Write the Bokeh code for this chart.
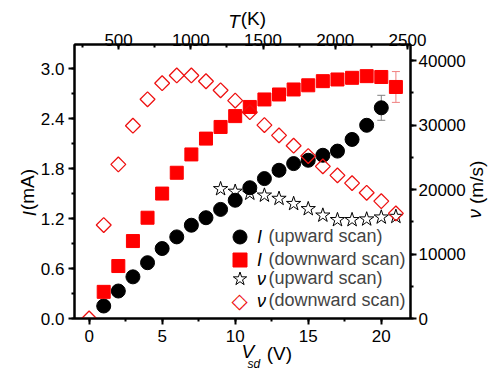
import math
from bokeh.plotting import figure
from bokeh.models import (Range1d, LinearAxis, SingleIntervalTicker, FixedTicker, Label, Legend,
                          LegendItem, Whisker, ColumnDataSource, TeeHead, PrintfTickFormatter)
from bokeh.embed import file_html
from bokeh.resources import INLINE

# ---- data ----
V_I_up = list(range(1, 21))
I_up = [0.15, 0.33, 0.50, 0.67, 0.84, 0.98, 1.12, 1.21, 1.31, 1.42,
        1.57, 1.68, 1.78, 1.86, 1.90, 1.96, 2.01, 2.15, 2.32, 2.53]

V_I_down = list(range(1, 22))
I_down = [0.32, 0.63, 0.93, 1.21, 1.50, 1.75, 1.97, 2.16, 2.30, 2.43,
          2.54, 2.63, 2.69, 2.75, 2.80, 2.85, 2.87, 2.89, 2.91, 2.90, 2.78]

V_v_up = list(range(9, 22))
v_up = [20100, 19700, 19400, 19100, 18600, 17800, 17000, 16000, 15300,
        15300, 15400, 15700, 15800]

V_v_down = list(range(0, 22))
v_down = [0, 14500, 23900, 29900, 34000, 36500, 37700, 37700, 36800, 35400,
          33800, 32000, 30000, 28400, 26800, 25200, 23600, 22200, 21000,
          19500, 18200, 16300]

# error bars (visible ones)
err_up_V = [20]
err_up_I = [2.53]
err_up_half = [0.15]
err_down_V = [21]
err_down_I = [2.78]
err_down_half = [0.185]

legend_labels = ["(upward scan)", "(downward scan)", "(upward scan)", "(downward scan)"]
legend_symbols = ["I", "I", "ν", "ν"]

FONT = "Liberation Sans"

# ---- layout (pixels) ----
W, H = 500, 382
FL, FR, FT, FB = 74, 416, 44, 318          # frame edges
X0, X1 = -1, 22
Y0, Y1 = 0, 3.29
VMAX = 42500

p = figure(width=W, height=H, x_range=Range1d(X0, X1), y_range=Range1d(Y0, Y1),
           output_backend="svg", toolbar_location=None,
           min_border_left=FL, min_border_right=W - FR, min_border_top=FT, min_border_bottom=H - FB)
p.xgrid.visible = False
p.ygrid.visible = False
p.outline_line_color = "black"
p.outline_line_width = 2
p.background_fill_color = "white"
p.border_fill_color = "white"

baxis = p.below[0]
laxis = p.left[0]

p.extra_y_ranges = {"v": Range1d(0, VMAX)}
p.extra_x_ranges = {"T": Range1d(195, 2521)}

baxis.ticker = SingleIntervalTicker(interval=5, num_minor_ticks=2)
laxis.ticker = SingleIntervalTicker(interval=0.6, num_minor_ticks=2)
laxis.formatter = PrintfTickFormatter(format="%.1f")
raxis = LinearAxis(y_range_name="v", ticker=SingleIntervalTicker(interval=10000, num_minor_ticks=2))
taxis = LinearAxis(x_range_name="T", ticker=SingleIntervalTicker(interval=500, num_minor_ticks=2))
p.add_layout(raxis, "right")
p.add_layout(taxis, "above")

for ax in [baxis, laxis, raxis, taxis]:
    ax.axis_line_width = 2
    ax.axis_line_color = "black"
    ax.major_tick_line_width = 2
    ax.minor_tick_line_width = 2
    ax.major_tick_line_color = "black"
    ax.minor_tick_line_color = "black"
    ax.major_label_text_font = FONT
    ax.major_label_text_font_size = "17px"
    ax.major_label_text_color = "black"
    ax.major_tick_out = 6
    ax.major_tick_in = 0
    ax.minor_tick_out = 3
    ax.minor_tick_in = 0
    ax.axis_label = None
taxis.major_tick_out = 0
taxis.major_tick_in = 5
taxis.minor_tick_out = 0
taxis.minor_tick_in = 3
taxis.major_label_standoff = -1
baxis.major_label_standoff = 5
laxis.major_label_standoff = 4
raxis.major_label_standoff = 2


# ---- axis titles: label-only axes, so that parts can be styled separately ----
def x_at(px):
    return round(X0 + (px - FL) / (FR - FL) * (X1 - X0), 4)


def y_at(py):
    return round(Y0 + (FB - py) / (FB - FT) * (Y1 - Y0), 4)


def v_at(py):
    return round((FB - py) / (FB - FT) * VMAX, 2)


def title_part(side, pos, text, size, style, standoff, range_name=None):
    kw = {}
    if range_name is not None:
        kw["y_range_name"] = range_name
    ax = LinearAxis(ticker=FixedTicker(ticks=[pos], minor_ticks=[]), **kw)
    ax.major_label_overrides = {pos: text}
    ax.major_label_text_font = FONT
    ax.major_label_text_font_size = size
    ax.major_label_text_font_style = style
    ax.major_label_text_color = "black"
    ax.major_label_standoff = standoff
    if side in ("left", "right"):
        ax.major_label_orientation = math.pi / 2
    ax.axis_line_color = None
    ax.major_tick_line_color = None
    ax.minor_tick_line_color = None
    ax.major_tick_out = 0
    ax.major_tick_in = 0
    ax.minor_tick_out = 0
    ax.minor_tick_in = 0
    p.add_layout(ax, side)


title_part("below", x_at(250.5), "V", "19px", "italic", -4)
title_part("below", x_at(282.5), "(V)", "19px", "normal", -22)
title_part("below", x_at(256.5), "sd", "12px", "italic", -10)

title_part("left", y_at(210.5), "I", "19px", "italic", 8)
title_part("left", y_at(168.5), "(mA)", "19px", "normal", -22)

title_part("above", x_at(236.5), "T", "19px", "italic", -1)
title_part("above", x_at(256.0), "(K)", "19px", "normal", -21)

title_part("right", v_at(218.0), "ν", "19px", "italic", 6, "v")
title_part("right", v_at(203.5), "(m/s)", "19px", "normal", -22, "v")

# error bars (behind markers)
s_e1 = ColumnDataSource(dict(x=err_up_V,
                             lo=[a - b for a, b in zip(err_up_I, err_up_half)],
                             hi=[a + b for a, b in zip(err_up_I, err_up_half)]))
s_e2 = ColumnDataSource(dict(x=err_down_V,
                             lo=[a - b for a, b in zip(err_down_I, err_down_half)],
                             hi=[a + b for a, b in zip(err_down_I, err_down_half)]))
for src, col in [(s_e1, "#808080"), (s_e2, "#f08080")]:
    p.add_layout(Whisker(source=src, base="x", lower="lo", upper="hi", line_color=col, line_width=1,
                         upper_head=TeeHead(size=8, line_color=col, line_width=1),
                         lower_head=TeeHead(size=8, line_color=col, line_width=1),
                         level="underlay"))

r1 = p.scatter(V_I_up, I_up, marker="circle", size=14, fill_color="black", line_color="black")
r2 = p.scatter(V_I_down, I_down, marker="square", size=13, fill_color="#ff0000", line_color="#ff0000")
r3 = p.scatter(V_v_up, v_up, marker="star", size=15, fill_color=None, line_color="black",
               line_width=1, y_range_name="v")
r4 = p.scatter(V_v_down, v_down, marker="square", angle=math.pi / 4, size=10.5, fill_color=None,
               line_color="#ee1111", line_width=1.3, y_range_name="v")
# empty, invisible renderer standing in for the diamond row of the legend
r4_key = p.scatter(x=[], y=[], marker="square", fill_alpha=0, line_alpha=0, y_range_name="v")

# one legend per row (frame-relative screen px): row centres and glyph boxes
row_y = [81.3, 59.0, 39.5, 18.0]
glyph_box = [35, 35, 35, 25]
renderers = [r1, r2, r3, r4_key]
key_x = 165.0
text_x = 194.5
for rend, lbl, cy, gb in zip(renderers, legend_labels, row_y, glyph_box):
    lg = Legend(items=[LegendItem(label=lbl, renderers=[rend])],
                location=(key_x - gb / 2, cy - gb / 2), glyph_width=gb, glyph_height=gb,
                label_height=gb, label_width=140, spacing=0, padding=0, margin=0,
                label_standoff=int(round(text_x - (key_x + gb / 2))),
                border_line_alpha=0, background_fill_alpha=0,
                label_text_font=FONT, label_text_font_size="18px")
    p.add_layout(lg)

# hollow diamond key for the last legend row
p.add_layout(Label(x=key_x, y=row_y[3], x_units="screen", y_units="screen", text="◇",
                   text_font="DejaVu Sans", text_font_size="21px", text_color="#ee1111",
                   text_align="center", text_baseline="middle"))

for sym, cy in zip(legend_symbols, row_y):
    p.add_layout(Label(x=182.5, y=cy, x_units="screen", y_units="screen", text=sym,
                       text_font=FONT, text_font_size="18px", text_font_style="italic",
                       text_baseline="middle", text_align="left", text_color="black"))

open("out.html", "w").write(file_html(p, INLINE))
